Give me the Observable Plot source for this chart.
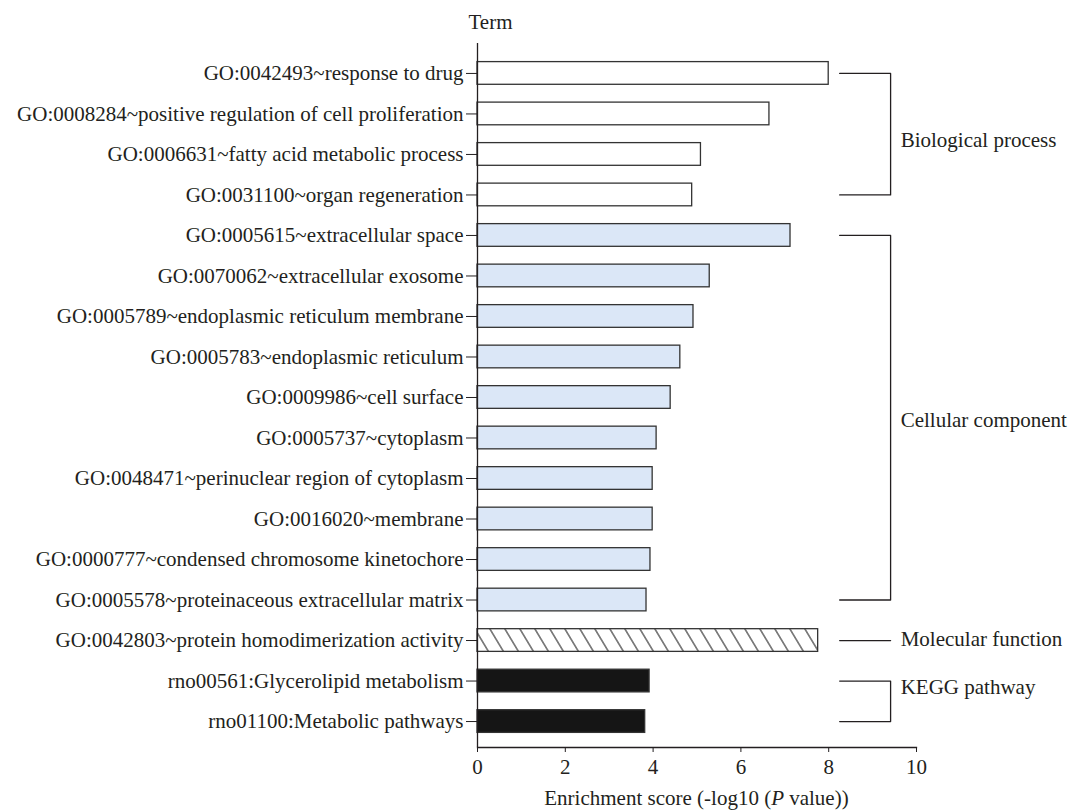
<!DOCTYPE html>
<html><head><meta charset="utf-8">
<script src="https://cdn.jsdelivr.net/npm/d3@7"></script>
<script src="https://cdn.jsdelivr.net/npm/@observablehq/plot@0.6"></script>
<style>body{margin:0;background:#fff}</style>
</head><body>
<svg width="0" height="0" style="position:absolute"><defs>
<pattern id="hatch" patternUnits="userSpaceOnUse" width="15" height="10" patternTransform="skewX(31)">
<rect width="15" height="10" fill="white"/><line x1="7" y1="-1" x2="7" y2="11" stroke="#222" stroke-width="1.2"/>
</pattern></defs></svg>
<div id="chart"></div>
<script>
const terms = [
  "GO:0042493~response to drug",
  "GO:0008284~positive regulation of cell proliferation",
  "GO:0006631~fatty acid metabolic process",
  "GO:0031100~organ regeneration",
  "GO:0005615~extracellular space",
  "GO:0070062~extracellular exosome",
  "GO:0005789~endoplasmic reticulum membrane",
  "GO:0005783~endoplasmic reticulum",
  "GO:0009986~cell surface",
  "GO:0005737~cytoplasm",
  "GO:0048471~perinuclear region of cytoplasm",
  "GO:0016020~membrane",
  "GO:0000777~condensed chromosome kinetochore",
  "GO:0005578~proteinaceous extracellular matrix",
  "GO:0042803~protein homodimerization activity",
  "rno00561:Glycerolipid metabolism",
  "rno01100:Metabolic pathways"
];
const scores = [8.0, 6.65, 5.09, 4.89, 7.13, 5.29, 4.92, 4.62, 4.40, 4.08, 3.99, 3.99, 3.94, 3.85, 7.76, 3.92, 3.82];
const groupOf = ["BP","BP","BP","BP","CC","CC","CC","CC","CC","CC","CC","CC","CC","CC","MF","KEGG","KEGG"];
const groupKeys = ["BP","CC","MF","KEGG"];
const groupNames = ["Biological process","Cellular component","Molecular function","KEGG pathway"];
const xTicks = [0, 2, 4, 6, 8, 10];

const fills = {BP: "white", CC: "#dbe7f7", MF: "url(#hatch)", KEGG: "#151515"};
const labelDy = {BP: 26.5, CC: -18, MF: -1, KEGG: 6};
const labelRow = {BP: 1, CC: 9, MF: 14, KEGG: 15};
const font = "'Liberation Serif', 'DejaVu Serif', serif";
const fs = 21;
const ink = "#231f20";

const rows = terms.map((t, i) => ({term: t, score: scores[i], group: groupOf[i]}));

const bx1 = 8.25, bx2 = 9.41, lx = 9.64;
const bracket = [];
groupKeys.forEach(g => {
  const r = rows.filter(d => d.group === g);
  const first = r[0].term, last = r[r.length - 1].term;
  bracket.push({g, x: bx1, y: first}, {g, x: bx2, y: first}, {g, x: bx2, y: last}, {g, x: bx1, y: last});
});

const marks = [];
groupKeys.forEach(g => {
  marks.push(Plot.barX(rows.filter(d => d.group === g), {
    x: "score", y: "term", fill: fills[g], stroke: "#333", strokeWidth: 1.3
  }));
});
marks.push(
  Plot.ruleX([0], {stroke: ink, strokeWidth: 1.3}),
  Plot.frame({anchor: "bottom", stroke: ink, strokeWidth: 1.3}),
  Plot.line(bracket, {x: "x", y: "y", z: "g", stroke: ink, strokeWidth: 1.3}),
  Plot.axisY({tickSize: 11, tickPadding: 3, label: null, fontSize: fs, color: ink}),
  Plot.axisX({ticks: xTicks, tickSize: 5, tickPadding: 7, label: null, fontSize: fs, color: ink}),
  Plot.text(["Term"], {text: d => d, frameAnchor: "top-left", dx: -9, dy: -29, fontSize: fs, fill: ink})
);
groupKeys.forEach((g, i) => {
  marks.push(Plot.text([{name: groupNames[i], term: terms[labelRow[g]]}], {
    text: "name", x: () => lx, y: "term", dy: labelDy[g],
    textAnchor: "start", fontSize: fs, fill: ink
  }));
});

const chart = Plot.plot({
  width: 1070, height: 811,
  marginLeft: 477, marginRight: 154, marginTop: 43, marginBottom: 64,
  style: {fontFamily: font, fontSize: fs + "px", color: ink, background: "white"},
  x: {domain: [0, 10], ticks: xTicks},
  y: {domain: terms, paddingInner: 0.44, paddingOuter: 0.41, align: 0.56, round: false},
  marks
});

const sx = chart.scale("x");
const svg = d3.select(chart.tagName === "svg" ? chart : chart.querySelector("svg"));
const lab = svg.append("text")
  .attr("x", sx.apply(5)).attr("y", 805)
  .attr("text-anchor", "middle").attr("fill", ink)
  .style("font-family", font).style("font-size", fs + "px");
lab.append("tspan").text("Enrichment score (-log10 (");
lab.append("tspan").attr("font-style", "italic").text("P");
lab.append("tspan").text(" value))");

document.getElementById("chart").append(chart);
</script>
</body></html>
